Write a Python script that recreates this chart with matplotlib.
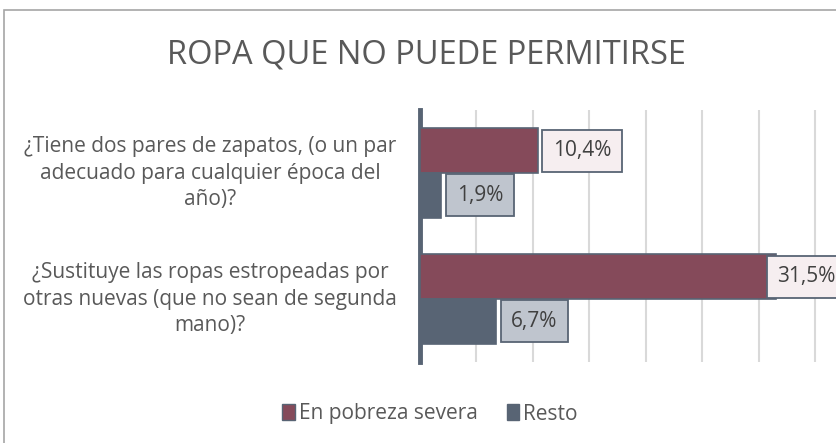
import matplotlib.pyplot as plt
from matplotlib.patches import Rectangle
import numpy as np

plt.rcParams['font.family'] = ['Open Sans', 'DejaVu Sans']

categories = ['¿Tiene dos pares de zapatos, (o un par\nadecuado para cualquier época del\naño)?',
              '¿Sustituye las ropas estropeadas por\notras nuevas (que no sean de segunda\nmano)?']
severa = [10.4, 31.5]
resto = [1.9, 6.7]
labels_severa = ['10,4%', '31,5%']
labels_resto = ['1,9%', '6,7%']

red = '#854A5A'
slate = '#586474'
txt = '#595959'

W, H = 837, 443
fig = plt.figure(figsize=(W / 100, H / 100), dpi=100)

# chart frame (cut at right and bottom)
fig.patches.append(Rectangle((4 / W, -0.05), 1.0, (H - 10) / H + 0.05, transform=fig.transFigure,
                             fill=False, edgecolor='#A6A6A6', linewidth=1.2))

ax = fig.add_axes([420 / W, 1 - 362 / H, (W - 420) / W, 252 / H])
y = np.arange(len(categories))
h = 0.355
ax.barh(y - h / 2, severa, height=h, color=red, edgecolor=slate, linewidth=1.2, zorder=3)
ax.barh(y + h / 2, resto, height=h, color=slate, edgecolor=slate, linewidth=1.2, zorder=3)

xmax = (W - 420) / 11.3
for yi, v, lab in zip(y, severa, labels_severa):
    off = 1 if v > 28 else 11  # label pushed back over the bar end near the edge
    ax.annotate(lab, (v, yi - h / 2), xytext=(off, 0), textcoords='offset points', va='center', ha='left',
                fontsize=15, color='#404040', zorder=5, annotation_clip=False,
                bbox=dict(boxstyle='square,pad=0.5', fc='#F6EEF0', ec=slate, lw=1.3))
for yi, v, lab in zip(y, resto, labels_resto):
    ax.annotate(lab, (v, yi + h / 2), xytext=(11, 0), textcoords='offset points', va='center', ha='left',
                fontsize=15, color='#404040', zorder=5, annotation_clip=False,
                bbox=dict(boxstyle='square,pad=0.5', fc='#BFC5CE', ec=slate, lw=1.3))

ax.set_xlim(0, xmax)
ax.set_ylim(1.5, -0.5)
ax.set_xticks(np.arange(5, 40, 5))
ax.xaxis.grid(True, color='#D9D9D9', linewidth=1.5, zorder=0)
ax.tick_params(left=False, bottom=False, labelbottom=False, labelleft=False)
for s in ['top', 'right', 'bottom']:
    ax.spines[s].set_visible(False)
ax.spines['left'].set_color(slate)
ax.spines['left'].set_linewidth(3.5)
ax.set_facecolor('none')

for yi, c in zip(y, categories):
    fig.text(210 / W, ax.transData.transform((0, yi))[1] / H, c, ha='center', va='center',
             fontsize=15, color=txt, linespacing=1.35)

fig.text(426 / W, 1 - 55 / H, 'ROPA QUE NO PUEDE PERMITIRSE', ha='center', va='center',
         fontsize=23.5, color=txt)

# legend
fig.legend(handles=[Rectangle((0, 0), 1, 1, fc=red, ec=slate), Rectangle((0, 0), 1, 1, fc=slate, ec=slate)],
           labels=['En pobreza severa', 'Resto'], loc='center', bbox_to_anchor=(430 / W, 1 - 414 / H),
           ncol=2, frameon=False, fontsize=15, handlelength=0.6, handleheight=0.8, handletextpad=0.2,
           columnspacing=1.4, labelcolor=txt)

fig.savefig('out.png', dpi=100)
